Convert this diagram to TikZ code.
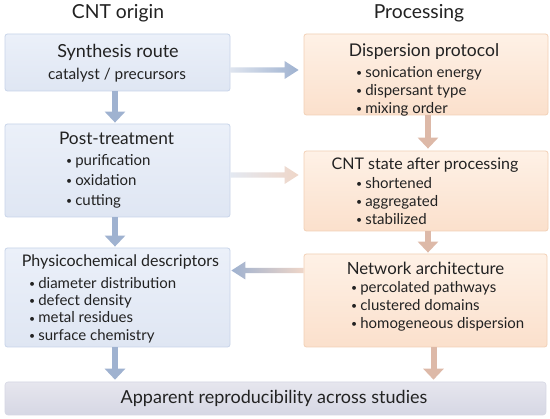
\documentclass[tikz,border=0pt]{standalone}
\usepackage{fontspec}
\setmainfont{Lato}
\usetikzlibrary{calc,arrows.meta}
\definecolor{bfillA}{HTML}{EBF0F9}
\definecolor{bfillB}{HTML}{DFE6F3}
\definecolor{bdraw}{HTML}{C8D4E9}
\definecolor{ofillA}{HTML}{FEF1E6}
\definecolor{ofillB}{HTML}{FBE0CC}
\definecolor{odraw}{HTML}{F2D0B6}
\definecolor{gfillA}{HTML}{E6E6EE}
\definecolor{gfillB}{HTML}{D6D7E4}
\definecolor{barrow}{HTML}{9FB2D0}
\definecolor{barrowL}{HTML}{C9D3E4}
\definecolor{oarrow}{HTML}{DDB9A8}
\definecolor{oarrowL}{HTML}{EFD6C8}
\definecolor{txt}{HTML}{222222}
\newcommand\bul{\raisebox{0.6pt}{\scalebox{0.7}{•}}\hspace{3pt}}
\tikzset{
  bluebox/.style={draw=bdraw, line width=0.8pt, rounded corners=2.5pt, top color=bfillA, bottom color=bfillB, inner sep=0pt},
  orangebox/.style={draw=odraw, line width=0.8pt, rounded corners=2.5pt, top color=ofillA, bottom color=ofillB, inner sep=0pt},
  graybox/.style={draw=gfillB, line width=0.6pt, rounded corners=3pt, top color=gfillA, bottom color=gfillB, inner sep=0pt},
  coltitle/.style={text=txt, font=\fontsize{19.3}{22}\selectfont, inner sep=0pt},
  boxtitle/.style={text=txt, inner sep=0pt},
  body/.style={text=txt, font=\fontsize{15}{18}\selectfont, inner sep=0pt, align=left, anchor=west},
  varrowB/.style={draw=barrow, line width=6pt, -{Triangle[width=20pt,length=11pt]}},
  varrowO/.style={draw=oarrow, line width=6pt, -{Triangle[width=20pt,length=11pt]}},
}
\begin{document}
\begin{tikzpicture}[x=1pt,y=-1pt]
\useasboundingbox (0,0) rectangle (550,419);
\fill[white] (0,0) rectangle (550,419);
% column titles
\node[coltitle] (t1) at (118,13) {CNT origin};
\node[coltitle] (t2) at (419,13) {Processing};
% boxes
\node[bluebox, minimum width=225pt, minimum height=57pt] (syn) at (117.5,62.5) {};
\node[bluebox, minimum width=225pt, minimum height=93pt] (post) at (117.5,170.5) {};
\node[bluebox, minimum width=225pt, minimum height=99pt] (phys) at (117.5,297.5) {};
\node[orangebox, minimum width=244pt, minimum height=81pt] (disp) at (426,74.5) {};
\node[orangebox, minimum width=244pt, minimum height=80pt] (state) at (426,191) {};
\node[orangebox, minimum width=243pt, minimum height=93pt] (net) at (425.5,300.5) {};
\node[graybox, minimum width=541pt, minimum height=33pt] (app) at (275.5,398.5) {};
% texts
\node[boxtitle, font=\fontsize{18}{20}\selectfont] (synT) at (118,52) {Synthesis route};
\node[text=txt, font=\fontsize{15.4}{18}\selectfont, inner sep=0pt] (synB) at (117,75) {catalyst / precursors};
\node[boxtitle, font=\fontsize{17.3}{20}\selectfont] (postT) at (116.5,138) {Post-treatment};
\node[body, font=\fontsize{15}{20}\selectfont] (postB) at (66,181) {\bul purification\\\bul oxidation\\\bul cutting};
\node[boxtitle, font=\fontsize{16}{18}\selectfont] (physT) at (120.5,262) {Physicochemical descriptors};
\node[body, font=\fontsize{15}{17.4}\selectfont] (physB) at (29,310) {\bul diameter distribution\\\bul defect density\\\bul metal residues\\\bul surface chemistry};
\node[boxtitle, font=\fontsize{17.5}{20}\selectfont] (dispT) at (424,52) {Dispersion protocol};
\node[body] (dispB) at (356,91) {\bul sonication energy\\\bul dispersant type\\\bul mixing order};
\node[boxtitle, font=\fontsize{16}{18}\selectfont] (stateT) at (425,165) {CNT state after processing};
\node[body] (stateB) at (356,201) {\bul shortened\\\bul aggregated\\\bul stabilized};
\node[boxtitle, font=\fontsize{16.8}{19}\selectfont] (netT) at (425.5,268) {Network architecture};
\node[body] (netB) at (351,306) {\bul percolated pathways\\\bul clustered domains\\\bul homogeneous dispersion};
\node[text=txt, font=\fontsize{18}{20}\selectfont, inner sep=0pt] (appT) at (274,398) {Apparent reproducibility across studies};
% vertical arrows
\draw[varrowB] ([xshift=-2.5pt]syn.south) -- ([xshift=-2.5pt,yshift=1pt]post.north);
\draw[varrowB] ([xshift=-2.5pt]post.south) -- ([xshift=-2.5pt,yshift=1pt]post.south |- phys.north);
\draw[varrowB] ([xshift=-2.5pt]phys.south) -- ([xshift=-2.5pt,yshift=2pt]phys.south |- app.north);
\draw[varrowO] ([xshift=2pt]disp.south) -- ([xshift=2pt,yshift=2pt]disp.south |- state.north);
\draw[varrowO] ([xshift=2pt]state.south) -- ([xshift=2pt,yshift=1pt]state.south |- net.north);
\draw[varrowO] ([xshift=8pt]net.south) -- ([xshift=8pt,yshift=2pt]net.south |- app.north);
% horizontal gradient arrows
\coordinate (h1s) at ($(syn.east)+(0,7.5)$);
\coordinate (h1e) at ($(disp.west)+(-5,-4.5)$);
\shade[left color=barrowL!60, right color=barrow] ($(h1s)+(0,-2.6)$) -- ($(h1e)+(-14,-2.6)$) -- ($(h1e)+(-14,-9)$) -- (h1e) -- ($(h1e)+(-14,9)$) -- ($(h1e)+(-14,2.6)$) -- ($(h1s)+(0,2.6)$) -- cycle;
\coordinate (h2s) at ($(post.east)+(0,4.5)$);
\coordinate (h2e) at ($(state.west)+(-5,-16)$);
\shade[left color=barrowL!50, right color=oarrowL] ($(h2s)+(0,-2.6)$) -- ($(h2e)+(-14,-2.6)$) -- ($(h2e)+(-14,-9)$) -- (h2e) -- ($(h2e)+(-14,9)$) -- ($(h2e)+(-14,2.6)$) -- ($(h2s)+(0,2.6)$) -- cycle;
\coordinate (h3s) at ($(net.west)+(0,-30)$);
\coordinate (h3e) at ($(phys.east)+(1,-27)$);
\shade[left color=barrow, right color=oarrowL] ($(h3s)+(0,-2.6)$) -- ($(h3e)+(14,-2.6)$) -- ($(h3e)+(14,-9)$) -- (h3e) -- ($(h3e)+(14,9)$) -- ($(h3e)+(14,2.6)$) -- ($(h3s)+(0,2.6)$) -- cycle;
\end{tikzpicture}
\end{document}
